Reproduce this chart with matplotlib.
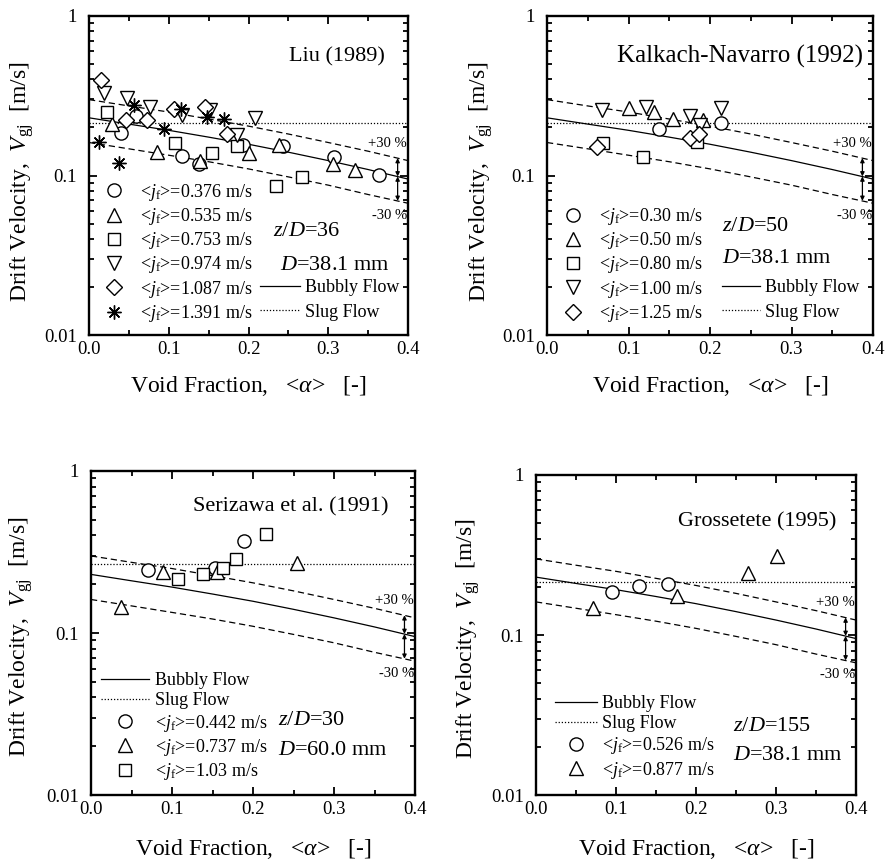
import matplotlib
matplotlib.use('Agg')
import matplotlib.pyplot as plt
from matplotlib.lines import Line2D
from matplotlib.ticker import MultipleLocator, LogLocator, NullFormatter, FixedLocator, FixedFormatter
import numpy as np

plt.rcParams['font.family'] = ['Liberation Serif', 'DejaVu Serif']
plt.rcParams['mathtext.fontset'] = 'custom'
plt.rcParams['mathtext.rm'] = 'Liberation Serif'
plt.rcParams['mathtext.it'] = 'Liberation Serif:italic'
plt.rcParams['mathtext.bf'] = 'Liberation Serif:bold'

# ---------------- model curves ----------------
alpha_model = [0.0, 0.05, 0.10, 0.15, 0.20, 0.25, 0.30, 0.35, 0.40]
vgj_bubbly = [0.230, 0.210, 0.192, 0.174, 0.157, 0.140, 0.124, 0.109, 0.095]
vgj_upper = [0.299, 0.273, 0.250, 0.226, 0.204, 0.182, 0.161, 0.142, 0.124]
vgj_lower = [0.161, 0.147, 0.134, 0.122, 0.110, 0.098, 0.087, 0.076, 0.067]
vgj_slug_381 = 0.214
vgj_slug_600 = 0.268

# ---------------- Liu (1989) ----------------
liu_labels = ['0.376', '0.535', '0.753', '0.974', '1.087', '1.391']
liu_a = [
    [0.040, 0.059, 0.116, 0.138, 0.193, 0.243, 0.307, 0.364],
    [0.029, 0.085, 0.139, 0.200, 0.238, 0.306, 0.333],
    [0.023, 0.108, 0.154, 0.185, 0.235, 0.267],
    [0.019, 0.048, 0.077, 0.117, 0.152, 0.185, 0.208],
    [0.015, 0.046, 0.073, 0.106, 0.145, 0.173],
    [0.0125, 0.0375, 0.056, 0.094, 0.115, 0.148, 0.169],
]
liu_v = [
    [0.186, 0.236, 0.133, 0.118, 0.155, 0.153, 0.131, 0.101],
    [0.209, 0.140, 0.124, 0.138, 0.155, 0.118, 0.109],
    [0.251, 0.159, 0.139, 0.152, 0.0863, 0.0973],
    [0.327, 0.308, 0.270, 0.239, 0.257, 0.179, 0.228],
    [0.397, 0.223, 0.223, 0.261, 0.270, 0.182],
    [0.163, 0.120, 0.277, 0.195, 0.261, 0.234, 0.225],
]

# ---------------- Kalkach-Navarro (1992) ----------------
kn_labels = ['0.30', '0.50', '0.80', '1.00', '1.25']
kn_a = [
    [0.137, 0.214],
    [0.100, 0.131, 0.154, 0.192],
    [0.069, 0.118, 0.184],
    [0.067, 0.122, 0.176, 0.188, 0.214],
    [0.061, 0.176, 0.187],
]
kn_v = [
    [0.195, 0.214],
    [0.264, 0.251, 0.225, 0.223],
    [0.159, 0.131, 0.163],
    [0.257, 0.270, 0.236, 0.207, 0.264],
    [0.150, 0.171, 0.182],
]

# ---------------- Serizawa et al. (1991) ----------------
sz_labels = ['0.442', '0.737', '1.03']
sz_a = [
    [0.070, 0.153, 0.189],
    [0.037, 0.089, 0.155, 0.254],
    [0.108, 0.138, 0.163, 0.179, 0.216],
]
sz_v = [
    [0.245, 0.251, 0.370],
    [0.144, 0.237, 0.239, 0.270],
    [0.215, 0.231, 0.251, 0.288, 0.408],
]

# ---------------- Grossetete (1995) ----------------
gr_labels = ['0.526', '0.877']
gr_a = [
    [0.095, 0.129, 0.165],
    [0.071, 0.176, 0.265, 0.301],
]
gr_v = [
    [0.187, 0.202, 0.208],
    [0.147, 0.175, 0.243, 0.312],
]

markers = ['o', '^', 's', 'v', 'D', (8, 2, 0)]
msizes = [9.5, 10.5, 8.5, 10.5, 7.8, 10]

W, H = 889, 867
fig = plt.figure(figsize=(W / 100, H / 100), dpi=100)


def add_ax(l, r, t, b):
    return fig.add_axes([l / W, 1 - b / H, (r - l) / W, (b - t) / H])


def style(ax, ylab_x, ylab_y, xlab_y):
    ax.set_yscale('log')
    ax.set_xlim(0, 0.4)
    ax.set_ylim(0.01, 1)
    ax.xaxis.set_major_locator(FixedLocator([0, 0.1, 0.2, 0.3, 0.4]))
    ax.xaxis.set_major_formatter(FixedFormatter(['0.0', '0.1', '0.2', '0.3', '0.4']))
    ax.xaxis.set_minor_locator(MultipleLocator(0.05))
    ax.yaxis.set_major_locator(FixedLocator([0.01, 0.1, 1]))
    ax.yaxis.set_major_formatter(FixedFormatter(['0.01', '0.1', '1']))
    ax.yaxis.set_minor_locator(LogLocator(base=10, subs=np.arange(2, 10)))
    ax.yaxis.set_minor_formatter(NullFormatter())
    ax.tick_params(which='both', direction='in', top=True, right=True, width=1.3)
    ax.tick_params(which='major', length=6, labelsize=13.5)
    ax.tick_params(which='minor', length=3.5)
    ax.tick_params(axis='x', pad=4)
    ax.tick_params(axis='y', pad=8.5)
    for sp in ax.spines.values():
        sp.set_linewidth(1.7)
    ax.set_xlabel(r'Void Fraction,   <$\alpha$>   [-]', fontsize=17)
    ax.set_ylabel(r'Drift Velocity,  $V_{\rm gj}$  [m/s]', fontsize=17)
    ax.yaxis.set_label_coords(ylab_x, ylab_y)
    ax.xaxis.set_label_coords(0.5, xlab_y)


def models(ax, slug):
    ax.plot(alpha_model, vgj_bubbly, color='k', lw=0.9, ls='-')
    ax.plot(alpha_model, vgj_upper, color='k', lw=0.9, ls=(0, (5, 3)))
    ax.plot(alpha_model, vgj_lower, color='k', lw=0.9, ls=(0, (5, 3)))
    ax.plot([0, 0.4], [slug, slug], color='k', lw=0.9, ls=(0, (1, 1.5)))
    xa = 0.387
    vb = np.interp(xa, alpha_model, vgj_bubbly)
    vu = np.interp(xa, alpha_model, vgj_upper)
    vl = np.interp(xa, alpha_model, vgj_lower)
    ap = dict(arrowstyle='<|-|>', lw=0.9, color='k', mutation_scale=6,
              shrinkA=0, shrinkB=0)
    ax.annotate('', xy=(xa, vu), xytext=(xa, vb), arrowprops=ap)
    ax.annotate('', xy=(xa, vl), xytext=(xa, vb), arrowprops=ap)
    ax.text(0.399, 0.159, '+30 %', ha='right', va='center', fontsize=10.5)
    ax.text(0.399, 0.0565, '-30 %', ha='right', va='center', fontsize=10.5)


def scatter(ax, A, V):
    hs = []
    for i, (a, v) in enumerate(zip(A, V)):
        ax.plot(a, v, ls='none', marker=markers[i], ms=msizes[i], mfc='white',
                mec='black', mew=1.0, color='k')
        hs.append(Line2D([], [], ls='none', marker=markers[i], ms=msizes[i],
                         mfc='white', mec='black', mew=1.0, color='k'))
    return hs


def jlab(s):
    return r'<$j_{\rm f}$>=' + s + ' m/s'


h_bub = Line2D([], [], color='k', lw=0.9, ls='-')
h_slug = Line2D([], [], color='k', lw=0.9, ls=(0, (1, 1.5)))

leg_kw = dict(frameon=False, fontsize=13, borderpad=0, borderaxespad=0,
              labelspacing=0.18, handletextpad=0.3, numpoints=1)
line_kw = dict(frameon=False, fontsize=13, borderpad=0, borderaxespad=0,
               labelspacing=0.42, handletextpad=0.28)

# ---- Panel 1 ----
ax1 = add_ax(89, 408, 16, 335)
style(ax1, -0.167, 0.48, -0.122)
models(ax1, vgj_slug_381)
hs = scatter(ax1, liu_a, liu_v)
leg = ax1.legend(hs, [jlab(s) for s in liu_labels], loc='lower left',
                 bbox_to_anchor=(0.012, 0.035), handlelength=2.3, **leg_kw)
ax1.add_artist(leg)
ax1.legend([h_bub, h_slug], ['Bubbly Flow', 'Slug Flow'], loc='lower left',
           bbox_to_anchor=(0.536, 0.045), handlelength=2.2, **line_kw)
ax1.text(0.777, 0.872, 'Liu (1989)', transform=ax1.transAxes, ha='center', va='center', fontsize=16)
ax1.text(0.577, 0.324, r'$z/D$=36', transform=ax1.transAxes, ha='left', va='center', fontsize=16)
ax1.text(0.599, 0.219, r'$D$=38.1 mm', transform=ax1.transAxes, ha='left', va='center', fontsize=16)

# ---- Panel 2 ----
ax2 = add_ax(547, 873, 16, 335)
style(ax2, -0.16, 0.48, -0.122)
models(ax2, vgj_slug_381)
hs = scatter(ax2, kn_a, kn_v)
leg = ax2.legend(hs, [jlab(s) for s in kn_labels], loc='lower left',
                 bbox_to_anchor=(0.02, 0.035), handlelength=2.2, **leg_kw)
ax2.add_artist(leg)
ax2.legend([h_bub, h_slug], ['Bubbly Flow', 'Slug Flow'], loc='lower left',
           bbox_to_anchor=(0.536, 0.045), handlelength=2.1, **line_kw)
ax2.text(0.592, 0.872, 'Kalkach-Navarro (1992)', transform=ax2.transAxes, ha='center', va='center', fontsize=18)
ax2.text(0.536, 0.339, r'$z/D$=50', transform=ax2.transAxes, ha='left', va='center', fontsize=16)
ax2.text(0.536, 0.240, r'$D$=38.1 mm', transform=ax2.transAxes, ha='left', va='center', fontsize=16)

# ---- Panel 3 ----
ax3 = add_ax(91, 415, 471, 795)
style(ax3, -0.173, 0.49, -0.130)
models(ax3, vgj_slug_600)
hs = scatter(ax3, sz_a, sz_v)
ax3.legend([h_bub, h_slug] + hs, ['Bubbly Flow', 'Slug Flow'] + [jlab(s) for s in sz_labels],
           loc='lower left', bbox_to_anchor=(0.03, 0.04), handlelength=2.7, **leg_kw)
ax3.text(0.617, 0.890, 'Serizawa et al. (1991)', transform=ax3.transAxes, ha='center', va='center', fontsize=16)
ax3.text(0.578, 0.231, r'$z/D$=30', transform=ax3.transAxes, ha='left', va='center', fontsize=16)
ax3.text(0.578, 0.137, r'$D$=60.0 mm', transform=ax3.transAxes, ha='left', va='center', fontsize=16)

# ---- Panel 4 ----
ax4 = add_ax(536, 856, 475, 795)
style(ax4, -0.169, 0.49, -0.130)
models(ax4, vgj_slug_381)
hs = scatter(ax4, gr_a, gr_v)
ax4.legend([h_bub, h_slug] + hs, ['Bubbly Flow', 'Slug Flow'] + [jlab(s) for s in gr_labels],
           loc='lower left', bbox_to_anchor=(0.06, 0.045), handlelength=2.3, **leg_kw)
ax4.text(0.690, 0.854, 'Grossetete (1995)', transform=ax4.transAxes, ha='center', va='center', fontsize=16)
ax4.text(0.617, 0.213, r'$z/D$=155', transform=ax4.transAxes, ha='left', va='center', fontsize=16)
ax4.text(0.617, 0.125, r'$D$=38.1 mm', transform=ax4.transAxes, ha='left', va='center', fontsize=16)

fig.savefig('out.png', dpi=100)
